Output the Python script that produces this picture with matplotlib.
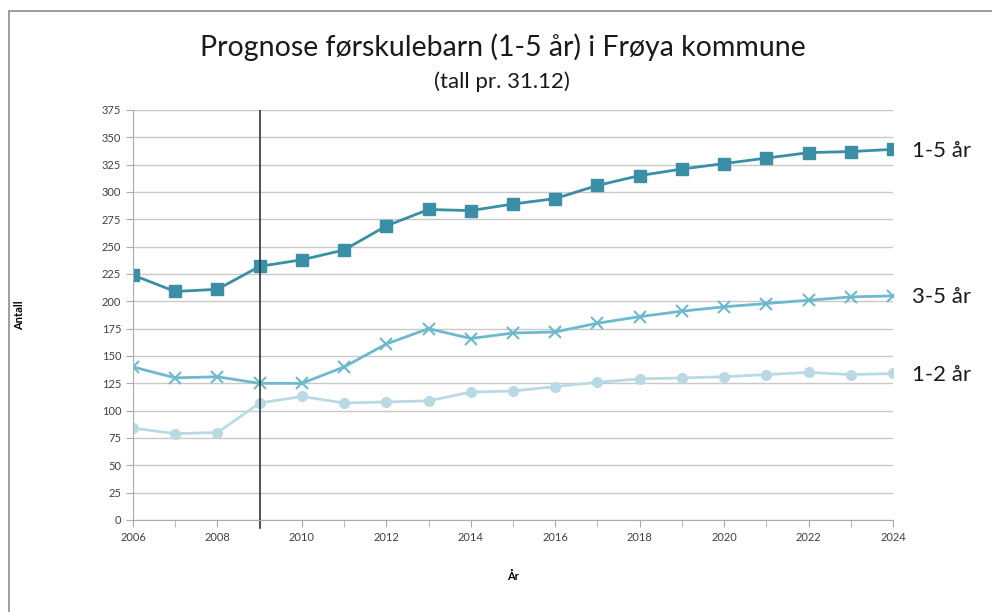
import matplotlib.pyplot as plt
from matplotlib.patches import Rectangle

years = list(range(2006, 2025))
age_1_5 = [224, 209, 211, 232, 238, 247, 269, 284, 283, 289, 294, 306, 315, 321, 326, 331, 336, 337, 339]
age_3_5 = [140, 130, 131, 125, 125, 140, 161, 175, 166, 171, 172, 180, 186, 191, 195, 198, 201, 204, 205]
age_1_2 = [84, 79, 80, 107, 113, 107, 108, 109, 117, 118, 122, 126, 129, 130, 131, 133, 135, 133, 134]
labels = ["1-5 år", "3-5 år", "1-2 år"]

plt.rcParams['font.family'] = ['Lato', 'DejaVu Sans']

W, H = 992, 612
fig = plt.figure(figsize=(W / 100, H / 100), dpi=100)
# grey chart-area border (only left and top visible in the crop)
fig.patches.append(Rectangle((9 / W, -0.1), 1.1, (H - 11) / H + 0.1, transform=fig.transFigure,
                             fill=False, edgecolor='#8c8c8c', linewidth=1.2))

ax = fig.add_axes([133 / W, (H - 520) / H, (893 - 133) / W, (520 - 110) / H])

ax.plot(years, age_1_2, '-o', color='#b9dae4', markersize=7, linewidth=2)
ax.plot(years, age_3_5, '-x', color='#6db9cd', markersize=8, markeredgewidth=1.5, linewidth=2)
ax.plot(years, age_1_5, '-s', color='#3a8ea5', markersize=8, linewidth=2)

ax.axvline(2009, ymin=0, ymax=1, color='#333333', linewidth=1.2)
ax.plot([2009, 2009], [0, -7], color='#333333', linewidth=1.2, clip_on=False)

ax.set_xlim(2006, 2024)
ax.set_ylim(0, 375)
ax.set_yticks(range(0, 376, 25))
ax.set_xticks(range(2006, 2025, 2))
ax.set_xticks(range(2006, 2025), minor=True)
ax.tick_params(axis='both', labelsize=8, colors='#404040')
ax.tick_params(axis='y', length=5, color='#aaaaaa')
ax.tick_params(axis='x', which='both', length=5, color='#aaaaaa', direction='out')
ax.grid(axis='y', color='#c8c8c8', linewidth=1)
ax.set_axisbelow(True)
for s in ['top', 'right']:
    ax.spines[s].set_visible(False)
ax.spines['left'].set_color('#aaaaaa')
ax.spines['bottom'].set_color('#aaaaaa')

ax.set_xlabel("År", fontsize=8, fontweight='bold', labelpad=20)
ax.set_ylabel("Antall", fontsize=8, fontweight='bold', labelpad=55)

for y, lab in zip([age_1_5[-1], age_3_5[-1], age_1_2[-1]], labels):
    ax.annotate(lab, xy=(2024, y), xytext=(14, -1), textcoords='offset points',
                fontsize=16, va='center', ha='left', color='#1a1a1a', annotation_clip=False)

fig.text(502.5 / W, (H - 47) / H, "Prognose førskulebarn (1-5 år) i Frøya kommune",
         fontsize=20.5, ha='center', va='center', color='#1a1a1a')
fig.text(502 / W, (H - 82) / H, "(tall pr. 31.12)", fontsize=16, ha='center', va='center', color='#1a1a1a')

fig.savefig("out.png", dpi=100)
